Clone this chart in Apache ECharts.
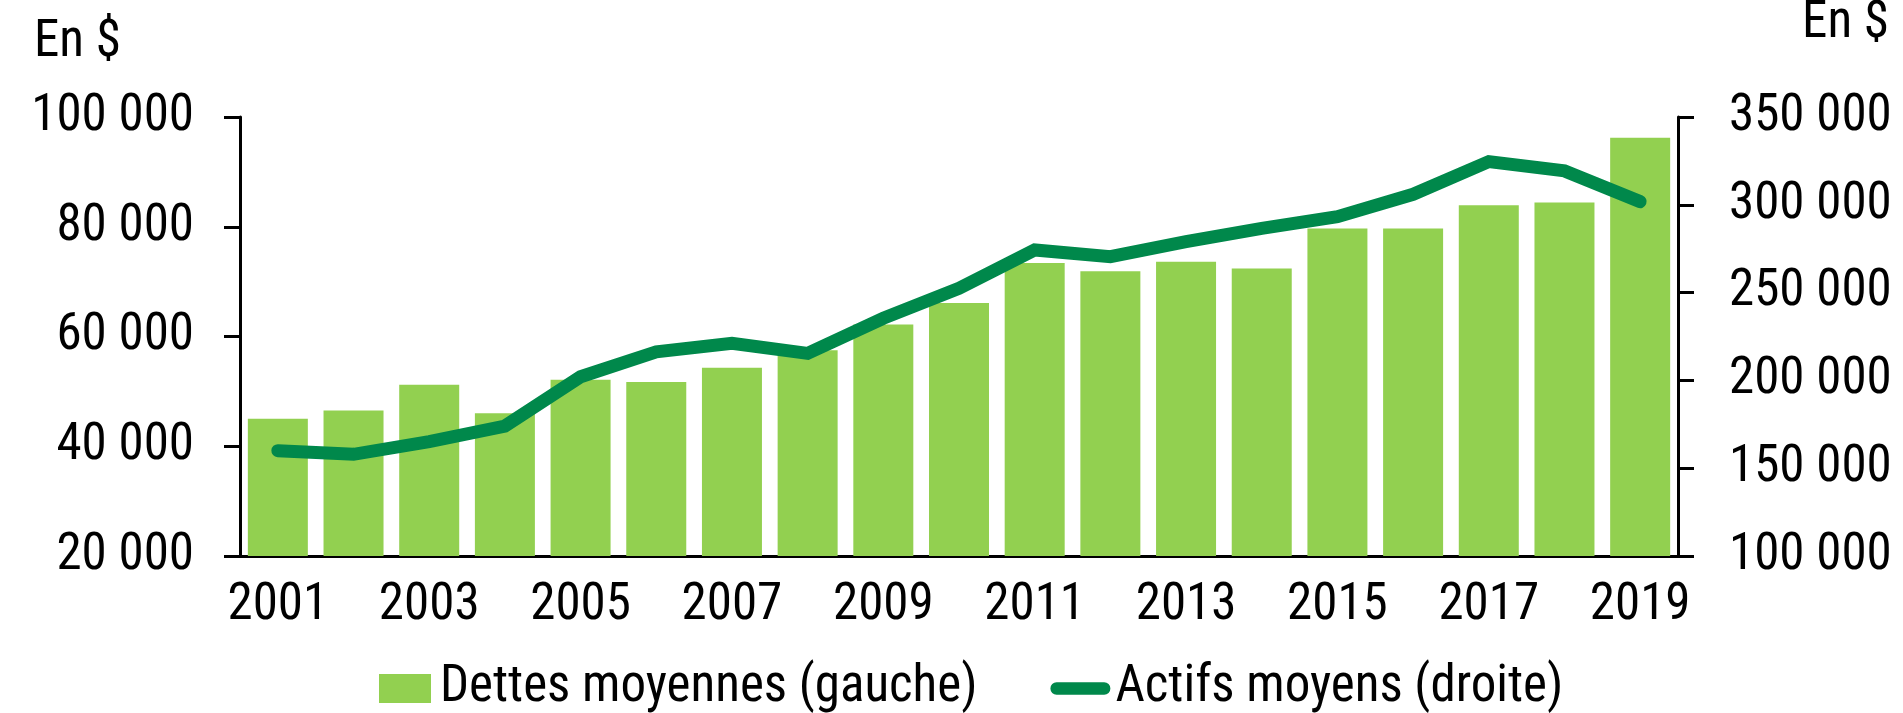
<!DOCTYPE html>
<html>
<head>
<meta charset="utf-8">
<script src="https://cdn.jsdelivr.net/npm/echarts@6/dist/echarts.min.js"></script>
<style>
html,body{margin:0;padding:0;background:#fff;}
#chart{width:1903px;height:713px;}
</style>
</head>
<body>
<div id="chart"></div>
<script>
const years = ['2001','2002','2003','2004','2005','2006','2007','2008','2009','2010','2011','2012','2013','2014','2015','2016','2017','2018','2019'];
const dettesMoyennes = [45000,46500,51200,46000,52100,51700,54300,57500,62200,66100,73400,71900,73600,72400,79700,79700,83900,84400,96200];
const actifsMoyens = [160000,157900,165100,174000,202100,216300,221100,215400,235400,252500,274300,270500,279000,286600,293200,306000,324600,319300,301800];
const leftTicks = {min:20000, max:100000, interval:20000};
const rightTicks = {min:100000, max:350000, interval:50000};
const seriesNames = ['Dettes moyennes (gauche)','Actifs moyens (droite)'];
const unitLabel = 'En $';

const FONT = "'Roboto Condensed','Open Sans',sans-serif";
const FS = 51;
const fmt = v => String(v).replace(/\B(?=(\d{3})+(?!\d))/g, ' ');
const ts = extra => Object.assign({color:'#000', fontSize:FS, fontFamily:FONT}, extra || {});

const chart = echarts.init(document.getElementById('chart'), null, {renderer:'canvas'});
const axisCommon = {
  type:'value',
  splitLine:{show:false},
  axisLine:{show:true, lineStyle:{color:'#000', width:3}},
  axisTick:{show:true, inside:false, length:16, lineStyle:{color:'#000', width:3}},
  axisLabel:ts({formatter:fmt})
};
chart.setOption({
  animation:false,
  backgroundColor:'#fff',
  grid:{left:240, right:225, top:117, bottom:157, containLabel:false},
  legend:{
    left:374, top:658,
    itemWidth:60, itemHeight:29, itemGap:73,
    textStyle:ts(),
    data:[
      {name:seriesNames[0], icon:'path://M0,0 H52 V29 H0 Z'},
      {name:seriesNames[1], icon:'path://M6.5,0 H56.5 A6.5,6.5 0 0 1 56.5,13 H6.5 A6.5,6.5 0 0 1 6.5,0 Z'}
    ]
  },
  graphic:[
    {type:'text', left:34, top:18, style:{text:unitLabel, font:FS+'px '+FONT, fill:'#000'}},
    {type:'text', right:14, top:-1, style:{text:unitLabel, font:FS+'px '+FONT, fill:'#000'}}
  ],
  xAxis:{
    type:'category', data:years, boundaryGap:true,
    axisLine:{show:true, lineStyle:{color:'#000', width:3}},
    axisTick:{show:false},
    axisLabel:ts({interval:1, margin:25})
  },
  yAxis:[
    Object.assign({}, axisCommon, {position:'left', min:leftTicks.min, max:leftTicks.max, interval:leftTicks.interval,
      axisLabel:ts({formatter:fmt, margin:46})}),
    Object.assign({}, axisCommon, {position:'right', min:rightTicks.min, max:rightTicks.max, interval:rightTicks.interval,
      axisLabel:ts({formatter:fmt, margin:51})})
  ],
  series:[
    {name:seriesNames[0], type:'bar', yAxisIndex:0, data:dettesMoyennes, barWidth:60,
     itemStyle:{color:'#92D050'}, z:2},
    {name:seriesNames[1], type:'line', yAxisIndex:1, data:actifsMoyens, symbol:'none', showSymbol:false,
     lineStyle:{color:'#00884B', width:13, cap:'round', join:'miter'}, itemStyle:{color:'#00884B'}, z:3}
  ]
});
</script>
</body>
</html>
